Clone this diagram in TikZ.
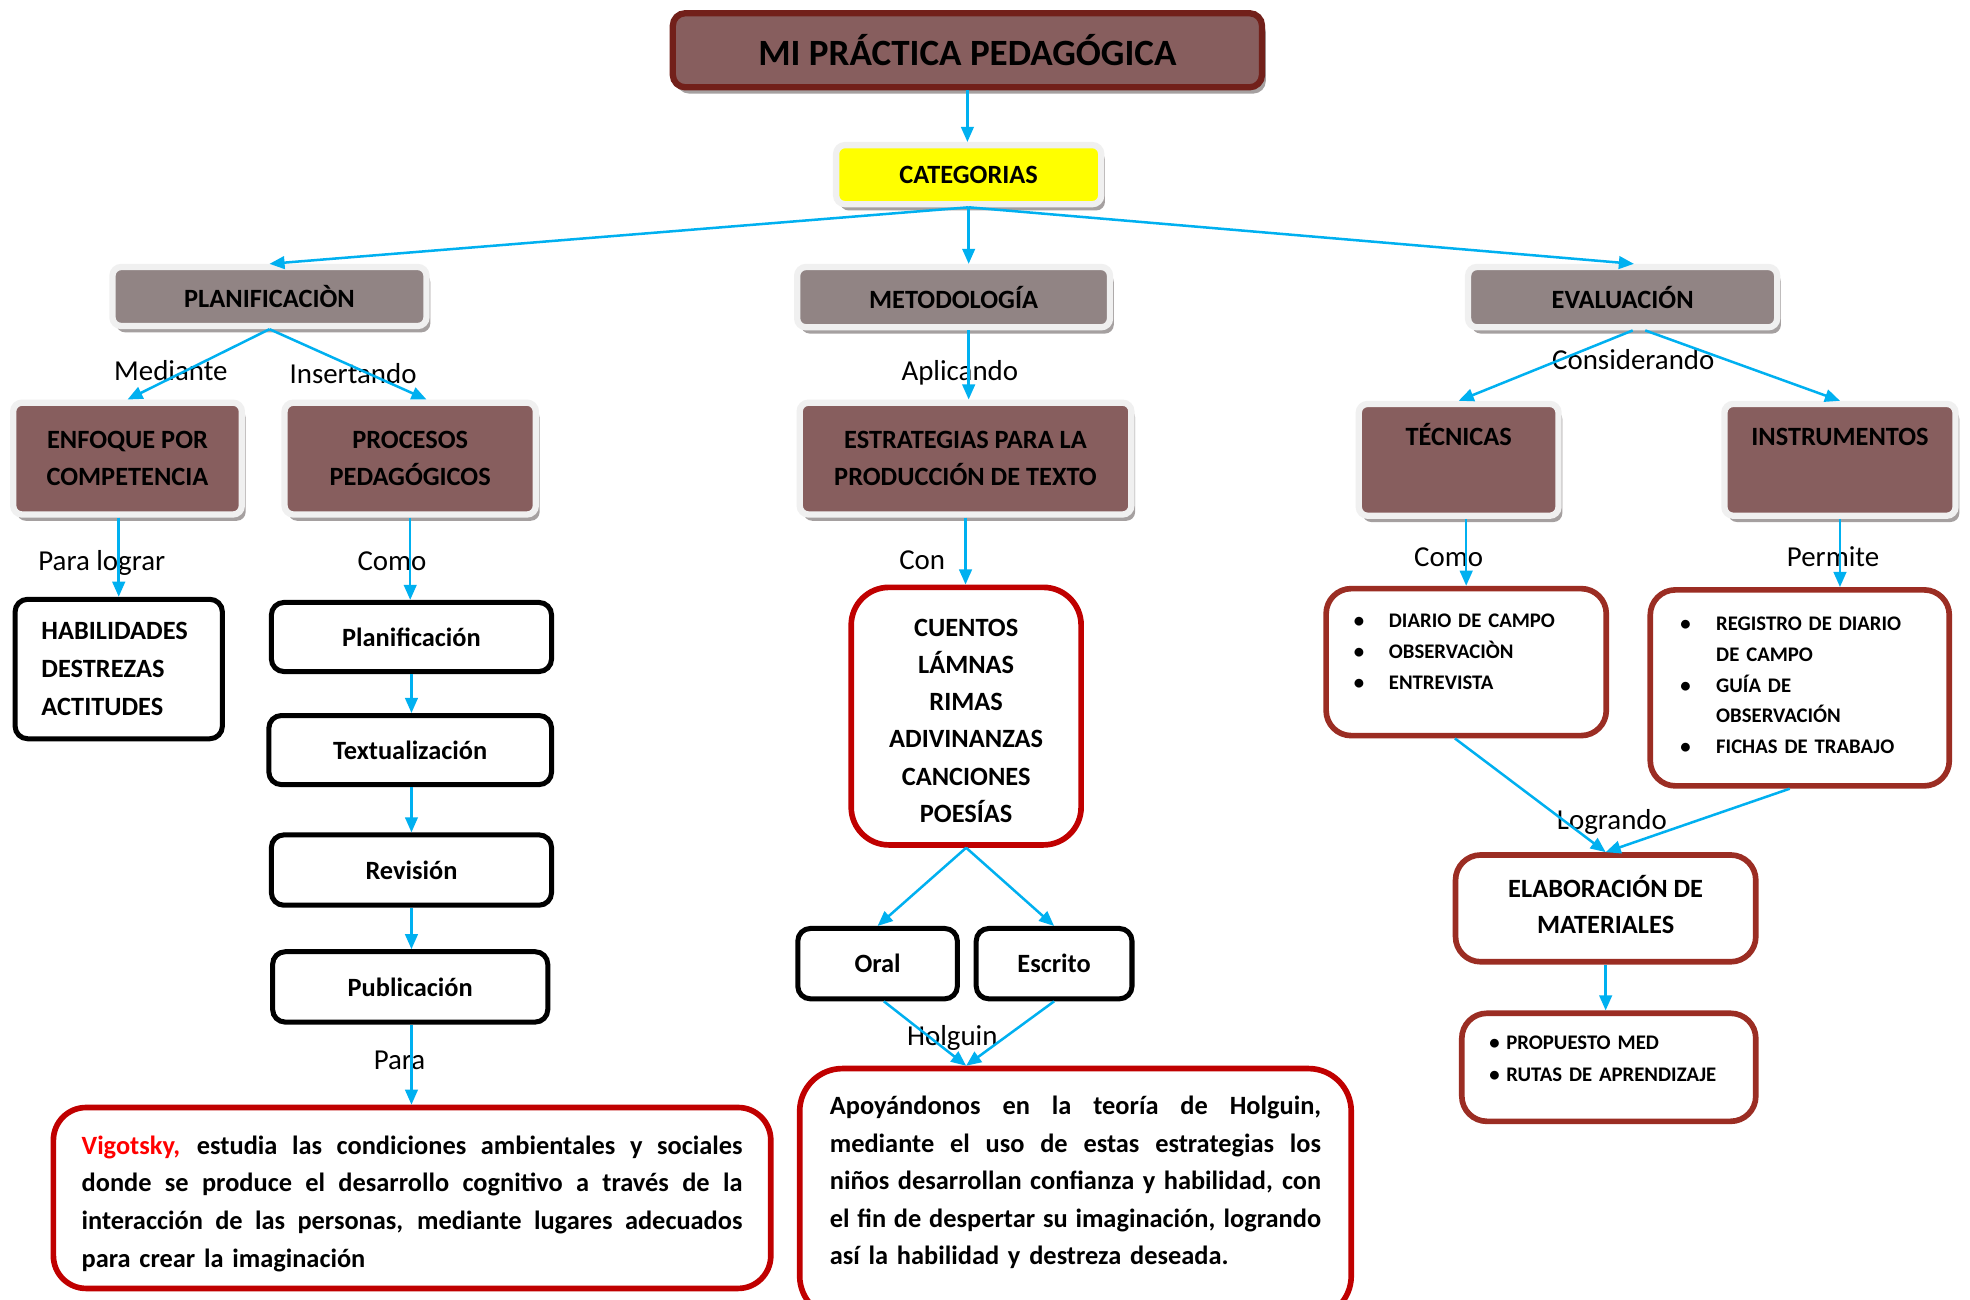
\documentclass[tikz,border=0pt]{standalone}
\usepackage{fontspec}
\setmainfont{Carlito}
\usetikzlibrary{arrows.meta,positioning,shadows}

\definecolor{boxbrown}{RGB}{135,94,94}
\definecolor{boxgray}{RGB}{145,132,132}
\definecolor{titlered}{RGB}{114,32,26}
\definecolor{framegray}{RGB}{240,240,240}
\definecolor{shadowgray}{RGB}{165,160,160}
\definecolor{catyellow}{RGB}{255,255,0}
\definecolor{arrowblue}{RGB}{0,176,240}
\definecolor{boxred}{RGB}{192,0,0}
\definecolor{brick}{RGB}{155,45,35}
\definecolor{vigred}{RGB}{255,0,0}

\newcommand{\hdrfont}{\fontsize{21}{29}\selectfont\bfseries}
\newcommand{\lblfont}{\fontsize{23}{26}\selectfont}
\newcommand{\lstfont}{\fontsize{16.5}{24.5}\selectfont\bfseries}
\newcommand{\jline}[2]{\makebox[#1][s]{\spaceskip=0pt \xspaceskip=0pt #2}}
\newcommand{\blt}[1]{\makebox[#1][l]{\hspace{2pt}\textbullet}}

\tikzset{
>={Triangle[length=12pt,width=10pt]},
  hdrbox/.style={
    rectangle,
    rounded corners=7pt,
    draw=framegray, line width=5pt,
    font=\hdrfont,
    align=center,
    drop shadow={shadow xshift=3pt, shadow yshift=-5pt, fill=shadowgray, opacity=1}},
  graybox/.style={hdrbox, fill=boxgray},
  brownbox/.style={hdrbox, fill=boxbrown},
  stepbox/.style={
    rectangle,
    rounded corners=10pt,
    draw=black, line width=4pt,
    fill=white,
    font=\hdrfont,
    align=center},
  redbox/.style={
    rectangle,
    rounded corners=28pt,
    draw=boxred, line width=4.5pt,
    fill=white,
    font=\fontsize{21}{30}\selectfont\bfseries},
  brickbox/.style={
    rectangle,
    rounded corners=20pt,
    draw=brick, line width=4.5pt,
    fill=white},
  lbl/.style={font=\lblfont, inner sep=0pt, anchor=base},
  link/.style={draw=arrowblue, line width=2pt, ->},
}

\begin{document}
\begin{tikzpicture}[x=1pt, y=-1pt]
  \fill[white, use as bounding box] (0,0) rectangle (1568,1034);

  \node[brownbox, draw=titlered, rounded corners=10pt, minimum width=469pt, minimum height=59pt,
    font=\fontsize{29.5}{32}\selectfont\bfseries] (titulo) at (770,40) {MI PRÁCTICA PEDAGÓGICA};
  \node[hdrbox, fill=catyellow, minimum width=211pt, minimum height=47pt] (cat) at (771,139) {CATEGORIAS};

  \node[graybox, minimum width=250pt, minimum height=47pt] (plan) at (214.5,236) {PLANIFICACIÒN};
  \node[graybox, minimum width=249pt, minimum height=48pt] (met) at (759,236.5) {METODOLOGÍA};
  \node[graybox, minimum width=246pt, minimum height=48pt] (eval) at (1291.5,236.5) {EVALUACIÓN};

  \node[brownbox, minimum width=182pt, minimum height=89pt] (enf) at (101.5,365) {ENFOQUE POR\\COMPETENCIA};
  \node[brownbox, minimum width=200pt, minimum height=89pt] (proc) at (326.5,365) {PROCESOS\\PEDAGÓGICOS};
  \node[brownbox, minimum width=264pt, minimum height=89pt] (estr) at (768.5,365) {ESTRATEGIAS PARA LA\\PRODUCCIÓN DE TEXTO};
  \node[brownbox, minimum width=159pt, minimum height=89pt, text height=17pt, text depth=40pt] (tec) at (1161,366) {TÉCNICAS};
  \node[brownbox, minimum width=184pt, minimum height=89pt, text height=17pt, text depth=40pt] (ins) at (1464.5,366) {INSTRUMENTOS};

  \node[stepbox, align=left, minimum width=165pt, minimum height=111pt, text width=123pt,
    font=\fontsize{21}{30}\selectfont\bfseries] (hab) at (94.5,532.5) {HABILIDADES\\DESTREZAS\\ACTITUDES};

  \node[stepbox, minimum width=223pt, minimum height=55pt] (planif) at (327.5,507) {Planificación};
  \node[stepbox, minimum width=225pt, minimum height=55pt] (textu) at (326.5,597) {Textualización};
  \node[stepbox, minimum width=223pt, minimum height=56pt] (rev) at (327.5,692.5) {Revisión};
  \node[stepbox, minimum width=219pt, minimum height=56pt] (pub) at (326.5,785.5) {Publicación};

  \node[redbox, rounded corners=26pt, minimum width=571pt, minimum height=144pt, text width=526pt, align=left] (vig) at (328,953.5)
    {\rule{0pt}{24pt}\jline{526pt}{\textcolor{vigred}{Vigotsky,} estudia las condiciones ambientales y sociales}\\
     \jline{526pt}{donde se produce el desarrollo cognitivo a través de la}\\
     \jline{526pt}{interacción de las personas, mediante lugares adecuados}\\
     para crear la imaginación};

  \node[redbox, rounded corners=30pt, minimum width=183pt, minimum height=205pt, align=center,
    font=\fontsize{21}{29.6}\selectfont\bfseries] (cuentos) at (769,570)
    {\rule{0pt}{21pt}CUENTOS\\LÁMNAS\\RIMAS\\ADIVINANZAS\\CANCIONES\\POESÍAS};

  \node[stepbox, minimum width=127pt, minimum height=56pt] (oral) at (698.5,767) {Oral};
  \node[stepbox, minimum width=124pt, minimum height=56pt] (escrito) at (839,767) {Escrito};

  \node[redbox, rounded corners=34pt, minimum width=439pt, minimum height=199pt, text width=391pt, align=left,
    font=\fontsize{21}{29.8}\selectfont\bfseries] (apoy) at (856,950)
    {\jline{391pt}{Apoyándonos en la teoría de Holguin,}\\
     \jline{391pt}{mediante el uso de estas estrategias los}\\
     \jline{391pt}{niños desarrollan confianza y habilidad, con}\\
     \jline{391pt}{el fin de despertar su imaginación, logrando}\\
     así la habilidad y destreza deseada.\rule[-21pt]{0pt}{21pt}};

  \node[brickbox, minimum width=223pt, minimum height=117pt, text width=183pt, align=left, font=\lstfont] (diario) at (1167,527)
    {\blt{30pt}DIARIO DE CAMPO\\
     \blt{30pt}OBSERVACIÒN\\
     \blt{30pt}ENTREVISTA\rule[-17pt]{0pt}{17pt}};
  \node[brickbox, minimum width=238pt, minimum height=156pt, text width=194pt, align=left, font=\lstfont] (reg) at (1432.5,547.5)
    {\blt{30.5pt}REGISTRO DE DIARIO\\
     \hspace*{30.5pt}DE CAMPO\\
     \blt{30.5pt}GUÍA DE\\
     \hspace*{30.5pt}OBSERVACIÓN\\
     \blt{30.5pt}FICHAS DE TRABAJO\rule[-4pt]{0pt}{4pt}};
  \node[brickbox, minimum width=239pt, minimum height=85pt, align=center, font=\hdrfont] (elab) at (1278,723)
    {ELABORACIÓN DE\\MATERIALES\rule[-6pt]{0pt}{6pt}};
  \node[brickbox, minimum width=234pt, minimum height=86pt, text width=194pt, align=left,
    font=\fontsize{16.5}{25}\selectfont\bfseries] (prop) at (1280.5,849.5)
    {\blt{15.5pt}PROPUESTO MED\\
     \blt{15.5pt}RUTAS DE APRENDIZAJE\rule[-14pt]{0pt}{14pt}};

  \node[lbl] (mediante) at (136,303) {Mediante};
  \node[lbl] (insertando) at (281,305) {Insertando};
  \node[lbl] (aplicando) at (764,303) {Aplicando};
  \node[lbl] (considerando) at (1300,294) {Considerando};
  \node[lbl] (paralograr) at (81,454) {Para lograr};
  \node[lbl] (como) at (312,454) {Como};
  \node[lbl] (con) at (734,453) {Con};
  \node[lbl] (comotec) at (1153,451) {Como};
  \node[lbl] (permite) at (1459,451) {Permite};
  \node[lbl] (holguin) at (758,832) {Holguin};
  \node[lbl] (logrando) at (1283,660) {Logrando};
  \node[lbl] (para) at (318,851) {Para};

  \draw[link] (titulo.south) -- (titulo.south |- cat.north);
  \draw[link] (cat.south) -- (plan.north);
  \draw[link] (cat.south) -- (cat.south |- met.north);
  \draw[link] (cat.south) -- ([xshift=9pt]eval.north);

  \draw[link] (plan.south) -- (enf.north);
  \draw[link] (plan.south) -- ([xshift=13pt]proc.north);
  \draw[link] (cat.south |- met.south) -- (cat.south |- estr.north);
  \draw[link] ([xshift=8pt]eval.south) -- (tec.north);
  \draw[link] ([xshift=18pt]eval.south) -- (ins.north);

  \draw[link] (hab.north |- enf.south) -- (hab.north);
  \draw[link] (proc.south) -- (proc.south |- planif.north);
  \draw[link] (planif.south) -- (planif.south |- textu.north);
  \draw[link] (planif.south |- textu.south) -- (planif.south |- rev.north);
  \draw[link] (rev.south) -- (rev.south |- pub.north);
  \draw[link] (rev.south |- pub.south) -- (rev.south |- vig.north);

  \draw[link] (estr.south) -- (estr.south |- cuentos.north);
  \draw[link] (cuentos.south) -- (oral.north);
  \draw[link] (cuentos.south) -- (escrito.north);
  \draw[link] ([xshift=5pt]oral.south) -- (apoy.north -| cuentos.south);
  \draw[link] (escrito.south) -- (apoy.north -| cuentos.south);

  \draw[link] (tec.south -| diario.north) -- (diario.north);
  \draw[link] (ins.south) -- (ins.south |- reg.north);
  \draw[link] ([xshift=-9pt]diario.south) -- (elab.north);
  \draw[link] ([xshift=-8pt]reg.south) -- (elab.north);
  \draw[link] (elab.south) -- (elab.south |- prop.north);
\end{tikzpicture}
\end{document}
